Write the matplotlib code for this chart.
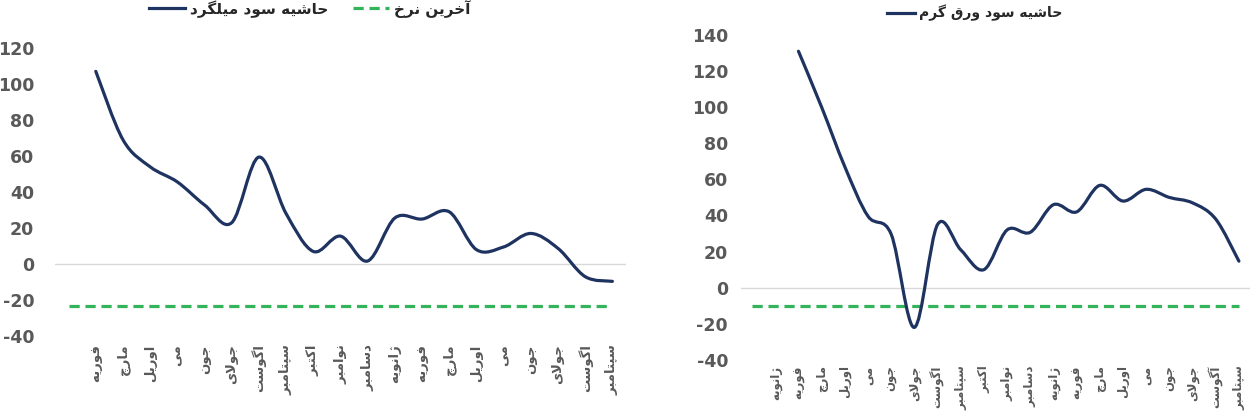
import numpy as np
import matplotlib
matplotlib.use("Agg")
import matplotlib.pyplot as plt
from matplotlib.path import Path
from matplotlib.patches import PathPatch
from matplotlib.lines import Line2D

plt.rcParams['axes.unicode_minus'] = False

# Data
months_rebar = ['', 'فوریه', 'مارچ', 'اوریل', 'می', 'جون', 'جولای', 'اگوست', 'سپتامبر', 'اکتبر',
                'نوامبر', 'دسامبر', 'ژانویه', 'فوریه', 'مارچ', 'اوریل', 'می', 'جون', 'جولای',
                'اگوست', 'سپتامبر']
rebar_margin = [np.nan, 107, 69, 54, 45.6, 32.8, 23, 59.4, 28, 7, 15.5, 1.7, 25.6, 25, 29,
                8, 9.5, 17, 8.7, -7, -9.6]
rebar_last = [-23.3] * len(months_rebar)

months_hrc = ['', 'ژانویه', 'فوریه', 'مارچ', 'اوریل', 'می', 'جون', 'جولای', 'اگوست', 'سپتامبر',
              'اکتبر', 'نوامبر', 'دسامبر', 'ژانویه', 'فوریه', 'مارچ', 'اوریل', 'می', 'جون',
              'جولای', 'آگوست', 'سپتامبر']
hrc_margin = [np.nan, np.nan, 131, 100, 67, 39.6, 29.6, -22, 35, 21, 10, 32, 30.7, 46, 42,
              56.7, 48, 54.5, 50, 47, 38, 14.7]
hrc_last = [-10] * len(months_hrc)

NAVY = '#1f3361'
GREEN = '#33b45a'
GREY = '#595959'

# simple arabic shaping (matplotlib has no complex text layout)
FORMS = {
    'ا': ('\uFE8D', '\uFE8E'), 'آ': ('\uFE81', '\uFE82'),
    'ب': ('\uFE8F', '\uFE90', '\uFE91', '\uFE92'), 'پ': ('\uFB56', '\uFB57', '\uFB58', '\uFB59'),
    'ت': ('\uFE95', '\uFE96', '\uFE97', '\uFE98'), 'ج': ('\uFE9D', '\uFE9E', '\uFE9F', '\uFEA0'),
    'چ': ('\uFB7A', '\uFB7B', '\uFB7C', '\uFB7D'), 'ح': ('\uFEA1', '\uFEA2', '\uFEA3', '\uFEA4'),
    'خ': ('\uFEA5', '\uFEA6', '\uFEA7', '\uFEA8'), 'د': ('\uFEA9', '\uFEAA'),
    'ر': ('\uFEAD', '\uFEAE'), 'ز': ('\uFEAF', '\uFEB0'), 'ژ': ('\uFB8A', '\uFB8B'),
    'س': ('\uFEB1', '\uFEB2', '\uFEB3', '\uFEB4'), 'ش': ('\uFEB5', '\uFEB6', '\uFEB7', '\uFEB8'),
    'ف': ('\uFED1', '\uFED2', '\uFED3', '\uFED4'), 'ق': ('\uFED5', '\uFED6', '\uFED7', '\uFED8'),
    'ک': ('\uFB8E', '\uFB8F', '\uFB90', '\uFB91'), 'گ': ('\uFB92', '\uFB93', '\uFB94', '\uFB95'),
    'ل': ('\uFEDD', '\uFEDE', '\uFEDF', '\uFEE0'), 'م': ('\uFEE1', '\uFEE2', '\uFEE3', '\uFEE4'),
    'ن': ('\uFEE5', '\uFEE6', '\uFEE7', '\uFEE8'), 'و': ('\uFEED', '\uFEEE'),
    'ه': ('\uFEE9', '\uFEEA', '\uFEEB', '\uFEEC'), 'ی': ('\uFBFC', '\uFBFD', '\uFBFE', '\uFBFF'),
}
LAM_ALEF = {'ا': ('\uFEFB', '\uFEFC'), 'آ': ('\uFEF5', '\uFEF6')}


def fa(text):
    res = []
    i = 0
    n = len(text)
    while i < n:
        c = text[i]
        if c not in FORMS:
            res.append(c)
            i += 1
            continue
        prev = text[i-1] if i > 0 else None
        join_prev = prev in FORMS and len(FORMS[prev]) == 4
        if c == 'ل' and i + 1 < n and text[i+1] in LAM_ALEF:
            lig = LAM_ALEF[text[i+1]]
            res.append(lig[1] if join_prev else lig[0])
            i += 2
            continue
        nxt = text[i+1] if i + 1 < n else None
        f = FORMS[c]
        join_next = len(f) == 4 and nxt in FORMS
        if join_prev and join_next:
            g = f[3]
        elif join_prev:
            g = f[1]
        elif join_next:
            g = f[2]
        else:
            g = f[0]
        res.append(g)
        i += 1
    return ''.join(reversed(res))


def smooth_line(ax, y, **kw):
    # catmull-rom style bezier like excel's smoothed line
    y = np.asarray(y, float)
    x = np.arange(len(y), dtype=float)
    ok = ~np.isnan(y)
    x, y = x[ok], y[ok]
    pts = np.column_stack([x, y])
    verts = [pts[0]]
    codes = [Path.MOVETO]
    for k in range(len(pts) - 1):
        p0 = pts[k-1] if k > 0 else pts[k]
        p1 = pts[k]
        p2 = pts[k+1]
        p3 = pts[k+2] if k + 2 < len(pts) else pts[k+1]
        verts += [p1 + (p2 - p0) / 6, p2 - (p3 - p1) / 6, p2]
        codes += [Path.CURVE4] * 3
    ax.add_patch(PathPatch(Path(verts, codes), fill=False, capstyle='round', **kw))


def style_axis(ax, labels, ylim, yticks, ypad, xsize, xpad):
    n = len(labels)
    ax.set_xlim(-0.5, n - 0.5)
    ax.set_ylim(*ylim)
    ax.set_yticks(yticks)
    ax.set_xticks(range(n))
    ax.set_xticklabels([fa(s) for s in labels], rotation=90, va='top', ha='center',
                       fontsize=xsize, fontweight='bold', color=GREY)
    for lab in ax.get_yticklabels():
        lab.set_fontsize(12.5)
        lab.set_fontweight('bold')
        lab.set_color(GREY)
    ax.tick_params(length=0)
    ax.tick_params(axis='x', pad=xpad)
    ax.tick_params(axis='y', pad=ypad)
    for s in ax.spines.values():
        s.set_visible(False)
    ax.axhline(0, color='#d9d9d9', lw=1, zorder=1)


fig = plt.figure(figsize=(12.53, 4.17), dpi=100)

ax1 = fig.add_axes([0.0439, 0.194, 0.4557, 0.691])
style_axis(ax1, months_rebar, (-40, 120), range(-40, 121, 20), 15, 9.5, 6)
ax1.plot(range(len(rebar_last)), rebar_last, color=GREEN, lw=2.3, ls=(0, (3.2, 1.8)), zorder=2)
smooth_line(ax1, rebar_margin, edgecolor=NAVY, lw=2.3, zorder=3)

ax2 = fig.add_axes([0.591, 0.137, 0.407, 0.779])
style_axis(ax2, months_hrc, (-40, 140), range(-40, 141, 20), 9, 8.5, 4)
ax2.plot(range(len(hrc_last)), hrc_last, color=GREEN, lw=2.3, ls=(0, (3.2, 1.8)), zorder=2)
smooth_line(ax2, hrc_margin, edgecolor=NAVY, lw=2.3, zorder=3)

h_navy = Line2D([], [], color=NAVY, lw=2.3)
h_green = Line2D([], [], color=GREEN, lw=2.3, ls=(0, (3.2, 1.8)))
fig.legend([h_navy, h_green], [fa('حاشیه سود میلگرد'), fa('آخرین نرخ')], loc='center',
           bbox_to_anchor=(0.247, 0.979), ncol=2, frameon=False, handlelength=2.4,
           handletextpad=0.3, columnspacing=1.6, prop={'size': 11, 'weight': 'bold'},
           labelcolor='#262626')
fig.legend([h_navy], [fa('حاشیه سود ورق گرم')], loc='center',
           bbox_to_anchor=(0.778, 0.969), frameon=False, handlelength=2.0,
           handletextpad=0.3, prop={'size': 10, 'weight': 'bold'}, labelcolor='#262626')

fig.savefig('out.png', dpi=100)
